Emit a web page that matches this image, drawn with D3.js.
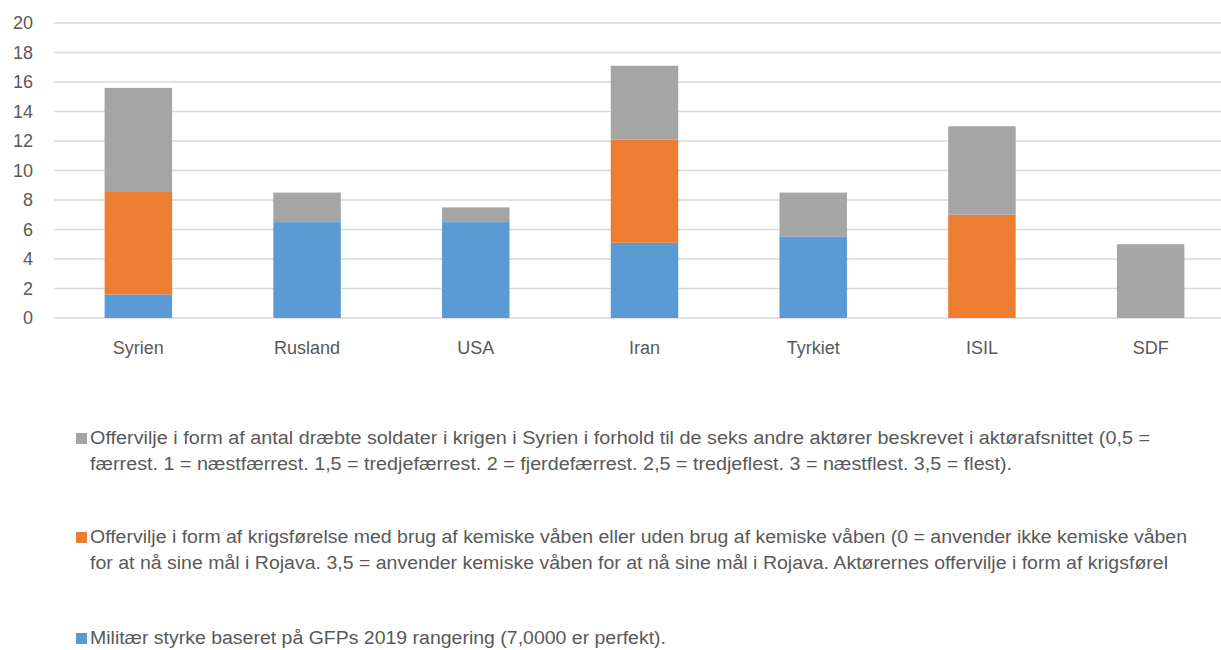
<!DOCTYPE html>
<html>
<head>
<meta charset="utf-8">
<script src="https://cdn.jsdelivr.net/npm/d3@7"></script>
<style>
  html, body { margin: 0; padding: 0; background: #fff; }
  svg { display: block; }
  text { font-family: "Liberation Sans", Arial, sans-serif; fill: #595959; }
</style>
</head>
<body>
<svg id="chart" width="1221" height="650"></svg>
<script>
// categories (actors) and the three stacked series
const categories = ["Syrien", "Rusland", "USA", "Iran", "Tyrkiet", "ISIL", "SDF"];
const militaer   = [1.6, 6.5, 6.5, 5.1, 5.5, 0, 0];   // blue
const kemisk     = [7, 0, 0, 7, 0, 7, 0];             // orange
const offer      = [7, 2, 1, 5, 3, 6, 5];             // grey
const yTicks     = [0, 2, 4, 6, 8, 10, 12, 14, 16, 18, 20];

const seriesKeys = ["militaer", "kemisk", "offer"];
const COLORS = { militaer: "#5b9bd5", kemisk: "#ed7d31", offer: "#a5a5a5" };

// legend entries (wrapped as in the original)
const legendItems = [
  { key: "offer", lines: [
    "Offervilje i form af antal dræbte soldater i krigen i Syrien i forhold til de seks andre aktører beskrevet i aktørafsnittet (0,5 =",
    "færrest. 1 = næstfærrest. 1,5 = tredjefærrest. 2 = fjerdefærrest. 2,5 = tredjeflest. 3 = næstflest. 3,5 = flest)."
  ], widths: [1060, 922], y: 444 },
  { key: "kemisk", lines: [
    "Offervilje i form af krigsførelse med brug af kemiske våben eller uden brug af kemiske våben (0 = anvender ikke kemiske våben",
    "for at nå sine mål i Rojava. 3,5 = anvender kemiske våben for at nå sine mål i Rojava. Aktørernes offervilje i form af krigsførel"
  ], widths: [1097, 1078], y: 543 },
  { key: "militaer", lines: [
    "Militær styrke baseret på GFPs 2019 rangering (7,0000 er perfekt)."
  ], widths: [576], y: 644 },
];

const rows = categories.map((c, i) => ({
  cat: c, militaer: militaer[i], kemisk: kemisk[i], offer: offer[i]
}));

const svg = d3.select("#chart");

const x = d3.scaleBand()
  .domain(categories)
  .range([54, 1235])
  .paddingInner(0.6)
  .paddingOuter(0.3);

const y = d3.scaleLinear().domain([0, 20]).range([318, 23]);

// Gridlines
svg.append("g")
  .selectAll("line")
  .data(yTicks)
  .join("line")
  .attr("x1", 54).attr("x2", 1221)
  .attr("y1", (d) => y(d)).attr("y2", (d) => y(d))
  .attr("stroke", "#d9d9d9")
  .attr("stroke-width", 1.5);

// Y tick labels
svg.append("g")
  .selectAll("text")
  .data(yTicks)
  .join("text")
  .attr("x", 33)
  .attr("y", (d) => y(d))
  .attr("dy", "0.36em")
  .attr("text-anchor", "end")
  .attr("font-size", 18)
  .text((d) => d);

// Stacked bars
const stack = d3.stack().keys(seriesKeys)(rows);

svg.append("g")
  .selectAll("g")
  .data(stack)
  .join("g")
  .attr("fill", (s) => COLORS[s.key])
  .selectAll("rect")
  .data((s) => s)
  .join("rect")
  .attr("x", (d) => x(d.data.cat))
  .attr("width", x.bandwidth())
  .attr("y", (d) => y(d[1]))
  .attr("height", (d) => y(d[0]) - y(d[1]));

// X labels
svg.append("g")
  .selectAll("text")
  .data(categories)
  .join("text")
  .attr("x", (d) => x(d) + x.bandwidth() / 2)
  .attr("y", 354)
  .attr("text-anchor", "middle")
  .attr("font-size", 18)
  .text((d) => d);

// Legend
const leg = svg.append("g");
legendItems.forEach((item) => {
  leg.append("rect")
    .attr("x", 76).attr("y", item.y - 11)
    .attr("width", 11).attr("height", 11)
    .attr("fill", COLORS[item.key]);
  item.lines.forEach((line, j) => {
    leg.append("text")
      .attr("x", 90)
      .attr("y", item.y + j * 26)
      .attr("font-size", 18)
      .attr("textLength", item.widths[j])
      .attr("lengthAdjust", "spacingAndGlyphs")
      .text(line);
  });
});
</script>
</body>
</html>
